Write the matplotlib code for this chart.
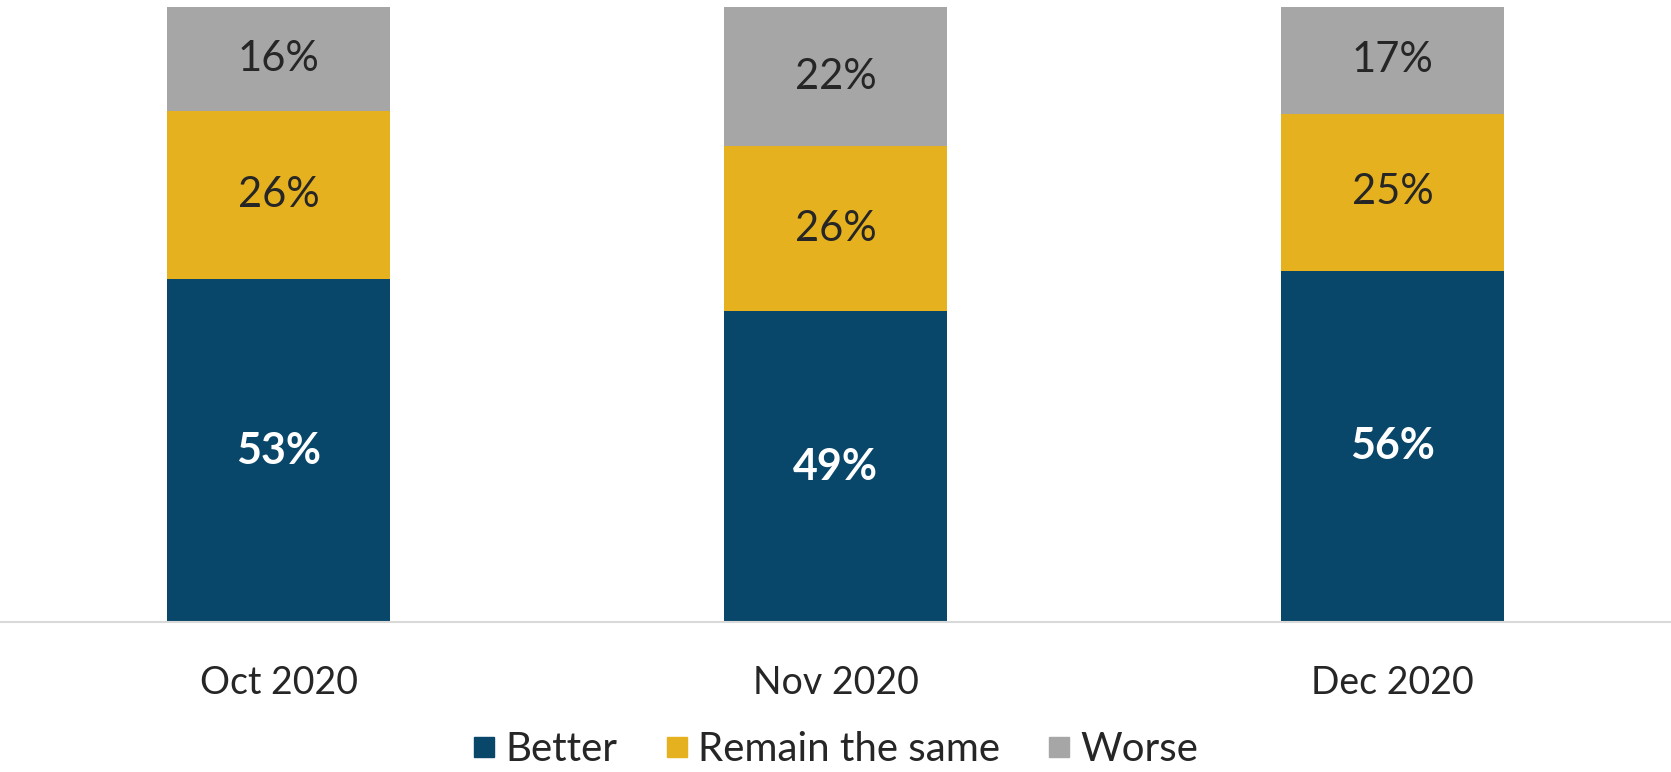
import numpy as np
import matplotlib
matplotlib.use('Agg')
from matplotlib import pyplot as plt
from matplotlib.lines import Line2D

months = ['Oct 2020', 'Nov 2020', 'Dec 2020']
series_names = ['Better', 'Remain the same', 'Worse']
better = [53, 49, 56]
same = [26, 26, 25]
worse = [16, 22, 17]
colours = ['#08466A', '#E6B11F', '#A6A6A6']

plt.rcParams['font.family'] = ['Lato', 'DejaVu Sans']

fig = plt.figure(figsize=(16.71, 7.72), dpi=100)
ax = fig.add_axes([0.0, 0.194, 1.0, 0.797])

values = np.array([better, same, worse], dtype=float)
totals = values.sum(axis=0)
x = np.arange(len(months))
bottom = np.zeros(len(months))

# 100% stacked bars, labels show the raw percentages
for i, (name, colour) in enumerate(zip(series_names, colours)):
    frac = values[i] / totals
    ax.bar(x, frac, width=0.4, bottom=bottom, color=colour, label=name)
    for xi, b, f, v in zip(x, bottom, frac, values[i]):
        if i == 0:
            ax.text(xi, b + f / 2, f'{v:.0f}%', ha='center', va='center',
                    fontsize=31, fontweight='bold', color='white')
        else:
            ax.text(xi, b + f / 2, f'{v:.0f}%', ha='center', va='center',
                    fontsize=30, color='#262626')
    bottom += frac

ax.set_xlim(-0.5, 2.5)
ax.set_ylim(0, 1)
ax.set_xticks(x)
ax.set_xticklabels(months, fontsize=27, color='#262626')
ax.tick_params(axis='x', length=0, pad=31)
ax.set_yticks([])
for side in ['top', 'right', 'left']:
    ax.spines[side].set_visible(False)
ax.spines['bottom'].set_color('#D9D9D9')
ax.spines['bottom'].set_linewidth(1.5)

handles = [Line2D([], [], marker='s', linestyle='none', markersize=14,
                  markerfacecolor=c, markeredgecolor=c) for c in colours]
fig.legend(handles, series_names, loc='lower center', bbox_to_anchor=(0.5, -0.042),
           ncol=3, frameon=False, fontsize=29, handlelength=0.55, handletextpad=0.25,
           columnspacing=1.2, labelcolor='#262626')

fig.savefig('out.png', dpi=100)
